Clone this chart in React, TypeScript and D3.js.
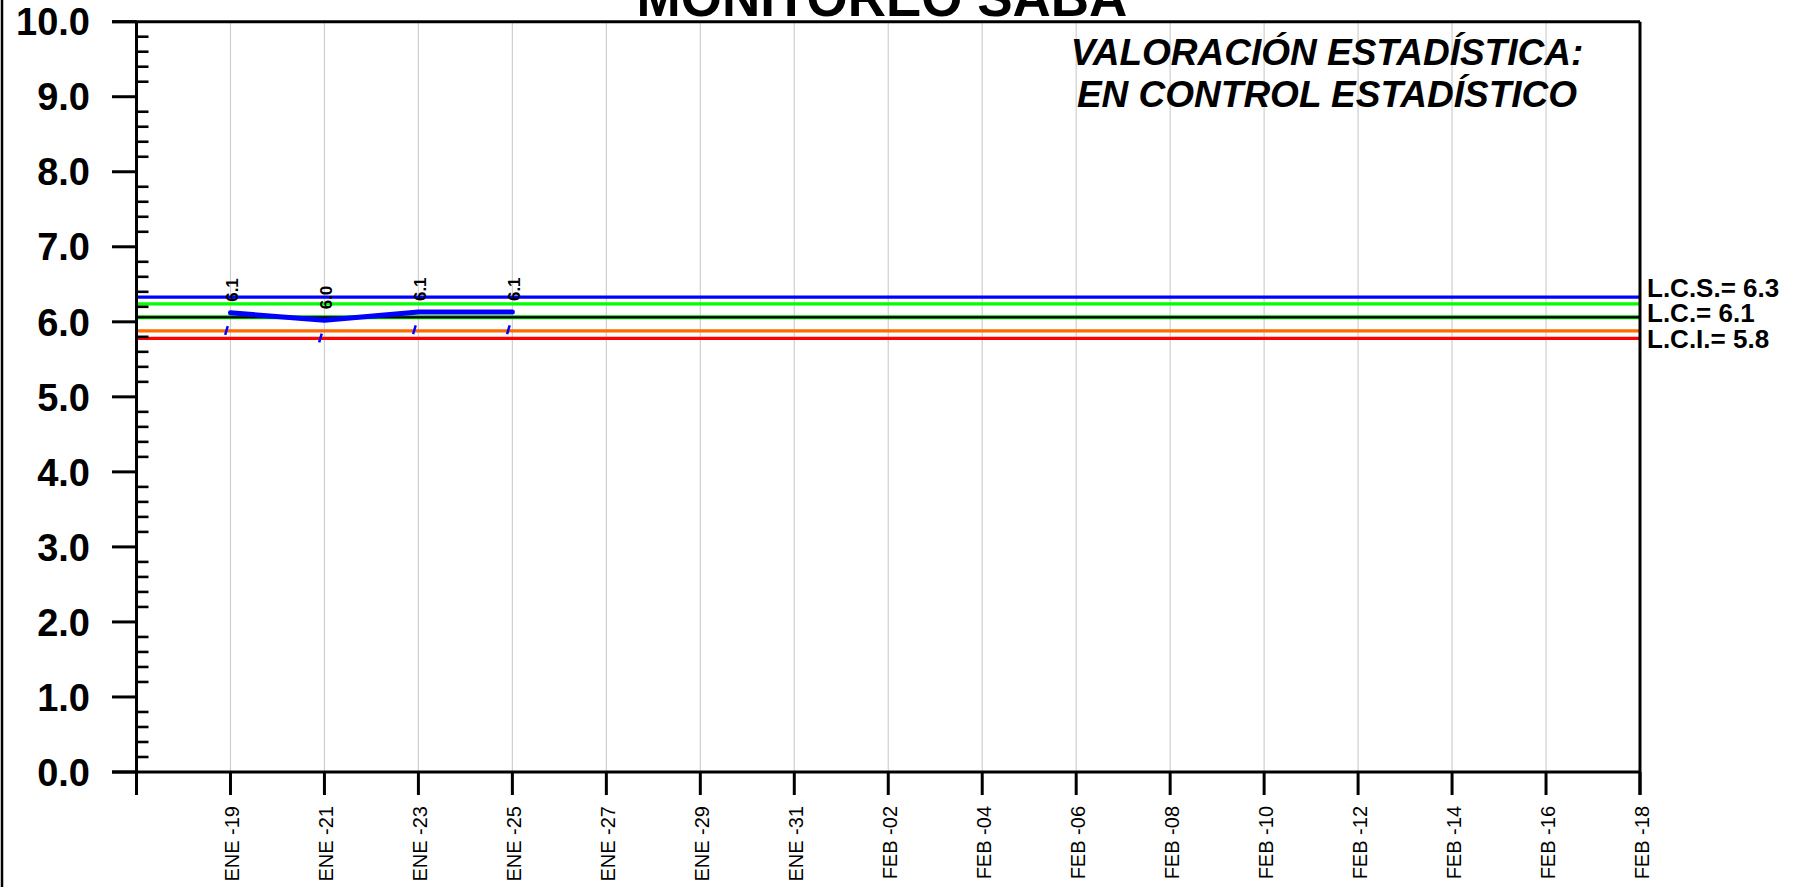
import React from "react";
import * as d3 from "d3";

// chart data
const sampleDates = ["2025-01-19", "2025-01-21", "2025-01-23", "2025-01-25"];
const sampleValues = [6.12, 6.02, 6.13, 6.13];
const sampleLabels = ["6.1", "6.0", "6.1", "6.1"];

const limitNames = ["L.C.S.", "L.A.S.", "L.C.", "L.A.I.", "L.C.I."];
const limitValues = [6.33, 6.24, 6.06, 5.88, 5.78];
const limitLabels = ["L.C.S.= 6.3", "", "L.C.= 6.1", "", "L.C.I.= 5.8"];

const monthNames = ["ENE", "FEB", "MAR", "ABR", "MAY", "JUN", "JUL", "AGO", "SEP", "OCT", "NOV", "DIC"];
const startDate = "2025-01-17";
const endDate = "2025-02-18";

const title = "MONITOREO SABA";
const statusLines = ["VALORACIÓN ESTADÍSTICA:", "EN CONTROL ESTADÍSTICO"];

const W = 1796;
const H = 887;
const FONT = "'Liberation Sans', Arial, Helvetica, sans-serif";

const parse = d3.timeParse("%Y-%m-%d");

export default function App() {
  const x0 = 136.5, x1 = 1640, yTop = 21.7, yBot = 772;

  const x = d3.scaleTime()
    .domain([parse(startDate)!, parse(endDate)!])
    .range([x0, x1]);
  const y = d3.scaleLinear().domain([0, 10]).range([yBot, yTop]);

  // a tick every 2 days, ENE-17 .. FEB-18
  const xTicks = d3.timeDay.range(parse(startDate)!, d3.timeDay.offset(parse(endDate)!, 1), 2);
  const fmtDay = d3.timeFormat("%d");
  const xLabel = (d: Date) => monthNames[d.getMonth()] + " -" + fmtDay(d);

  const majorY = d3.range(0, 11);
  const minorY = d3.range(0, 51).map(i => i / 5).filter(v => Math.abs(v - Math.round(v)) > 1e-6);

  const pts = sampleDates.map((d, i) => ({ date: parse(d)!, v: sampleValues[i], label: sampleLabels[i] }));
  const path = d3.line<{ date: Date; v: number }>()
    .x(d => x(d.date))
    .y(d => y(d.v))(pts);

  const limitColors: Record<string, string> = {
    "L.C.S.": "#0000ff",
    "L.A.S.": "#00ff00",
    "L.C.": "#00c000",
    "L.A.I.": "#ff6a00",
    "L.C.I.": "#ff0000",
  };
  const labelNudge = [0, 0, 5, 0, 9.5];

  return (
    <svg width={W} height={H} style={{ position: "absolute", left: 0, top: 0, background: "#fff" }} fontFamily={FONT}>
      <rect width={W} height={H} fill="#fff" />
      {/* page edge */}
      <line x1={2} x2={2} y1={0} y2={H} stroke="#000" strokeWidth={2.5} />

      {/* grid */}
      {xTicks.map((d, i) => (
        <line key={"g" + i} x1={x(d)} x2={x(d)} y1={yTop} y2={yBot} stroke="#cfcfcf" strokeWidth={1.2} />
      ))}

      {/* control limits */}
      {limitValues.map((v, i) => (
        <g key={"l" + i}>
          <line x1={x0} x2={x1} y1={y(v)} y2={y(v)} stroke={limitColors[limitNames[i]]} strokeWidth={i === 2 ? 4 : 3.2} />
          {i === 2 && <line x1={x0} x2={x1} y1={y(v)} y2={y(v)} stroke="#000" strokeWidth={2} />}
          {limitLabels[i] && (
            <text x={1647} y={y(v) + labelNudge[i]} fontSize={26} fontWeight="bold" fill="#000">{limitLabels[i]}</text>
          )}
        </g>
      ))}

      {/* data */}
      <path d={path ?? ""} fill="none" stroke="#0000ff" strokeWidth={5} strokeLinejoin="round" strokeLinecap="round" />
      {pts.map((p, i) => (
        <g key={"p" + i}>
          <line x1={x(p.date) - 5.3} y1={y(p.v) + 22} x2={x(p.date) - 2.7} y2={y(p.v) + 13.3} stroke="#0000ff" strokeWidth={2.5} />
          <text transform={`translate(${x(p.date) + 2},${y(p.v) - 11}) rotate(-90)`} dy="0.35em" fontSize={17} fontWeight="bold" fill="#000">{p.label}</text>
        </g>
      ))}

      {/* frame */}
      <line x1={112} x2={x1} y1={yTop} y2={yTop} stroke="#000" strokeWidth={3} />
      <line x1={x1} x2={x1} y1={yTop} y2={795} stroke="#000" strokeWidth={3} />
      <line x1={112} x2={x1} y1={yBot} y2={yBot} stroke="#000" strokeWidth={3} />
      <line x1={x0} x2={x0} y1={yTop} y2={795} stroke="#000" strokeWidth={3} />

      {/* y axis */}
      {majorY.map(v => (
        <g key={"y" + v}>
          <line x1={112} x2={x0} y1={y(v)} y2={y(v)} stroke="#000" strokeWidth={3} />
          <text x={90} y={y(v)} dy="0.36em" textAnchor="end" fontSize={38} fontWeight="bold" fill="#000">{d3.format(".1f")(v)}</text>
        </g>
      ))}
      {minorY.map((v, i) => (
        <line key={"m" + i} x1={x0} x2={148.5} y1={y(v)} y2={y(v)} stroke="#000" strokeWidth={2.6} />
      ))}

      {/* x axis */}
      {xTicks.map((d, i) => (
        <g key={"x" + i}>
          <line x1={x(d)} x2={x(d)} y1={yBot} y2={795} stroke="#000" strokeWidth={3} />
          {i > 0 && (
            <text transform={`translate(${x(d) + 2},806) rotate(-90)`} dy="0.35em" textAnchor="end" fontSize={20} fill="#000">{xLabel(d)}</text>
          )}
        </g>
      ))}

      {/* titles */}
      <text x={882} y={16} textAnchor="middle" fontSize={53} fontWeight="bold" fill="#000">{title}</text>
      {statusLines.map((s, i) => (
        <text key={"s" + i} x={1327} y={64.5 + i * 42} textAnchor="middle" fontSize={37} fontWeight="bold" fontStyle="italic" fill="#000">{s}</text>
      ))}
    </svg>
  );
}
